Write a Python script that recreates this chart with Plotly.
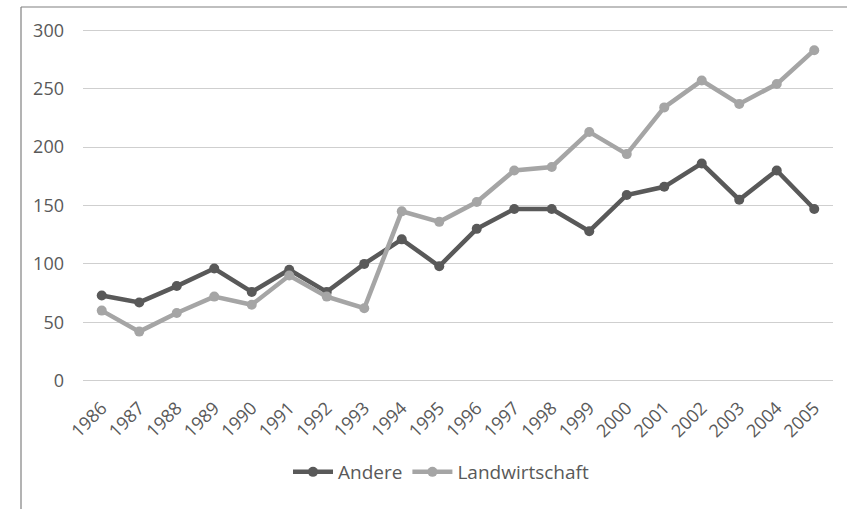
import plotly.graph_objects as go

years = [str(y) for y in range(1986, 2006)]
andere = [73, 67, 81, 96, 76, 95, 76, 100, 121, 98, 130, 147, 147, 128, 159, 166, 186, 155, 180, 147]
landwirtschaft = [60, 42, 58, 72, 65, 90, 72, 62, 145, 136, 153, 180, 183, 213, 194, 234, 257, 237, 254, 283]
y_ticks = [0, 50, 100, 150, 200, 250, 300]

W, H = 847, 509
L, R, T, B = 83, 14, 28, 126
pw, ph = W - L - R, H - T - B

def px_x(p):
    return (p - L) / pw

def px_y(p):
    return (H - B - p) / ph

FONT = "Open Sans"
TXT = "#595959"

fig = go.Figure()
fig.add_trace(go.Scatter(
    x=years, y=andere, name="Andere", mode="lines+markers",
    line=dict(color="#595959", width=4.5),
    marker=dict(color="#595959", size=10),
))
fig.add_trace(go.Scatter(
    x=years, y=landwirtschaft, name="Landwirtschaft", mode="lines+markers",
    line=dict(color="#a5a5a5", width=4.5),
    marker=dict(color="#a5a5a5", size=10),
))

fig.update_layout(
    width=W, height=H,
    margin=dict(l=L, r=R, t=T, b=B, pad=0),
    paper_bgcolor="white", plot_bgcolor="white",
    font=dict(family=FONT, size=18, color=TXT),
    showlegend=True,
    legend=dict(orientation="h", x=px_x(441), xanchor="center",
                y=px_y(472), yanchor="middle",
                font=dict(family=FONT, size=19, color=TXT),
                itemwidth=40, bgcolor="rgba(0,0,0,0)"),
    xaxis=dict(type="category", range=[-0.5, 19.5], tickangle=-45,
               showgrid=False, showline=False, zeroline=False,
               tickfont=dict(family=FONT, size=18, color=TXT),
               ticks="", ticklabelstandoff=10),
    yaxis=dict(range=[-2, 302], tickvals=y_ticks, showgrid=True,
               gridcolor="#cfcfcf", gridwidth=1.3, zeroline=False,
               showline=False, ticks="",
               tickfont=dict(family=FONT, size=18, color=TXT),
               ticklabelstandoff=18),
    shapes=[
        dict(type="line", xref="paper", yref="paper",
             x0=px_x(21), x1=px_x(21), y0=px_y(7), y1=px_y(515),
             line=dict(color="#808080", width=1.2)),
        dict(type="line", xref="paper", yref="paper",
             x0=px_x(21), x1=px_x(855), y0=px_y(7), y1=px_y(7),
             line=dict(color="#808080", width=1.2)),
    ],
)

fig.write_html(
    "out.html",
    config={"displayModeBar": False},
    post_script="document.body.style.margin='0';document.body.style.overflow='hidden';",
)
